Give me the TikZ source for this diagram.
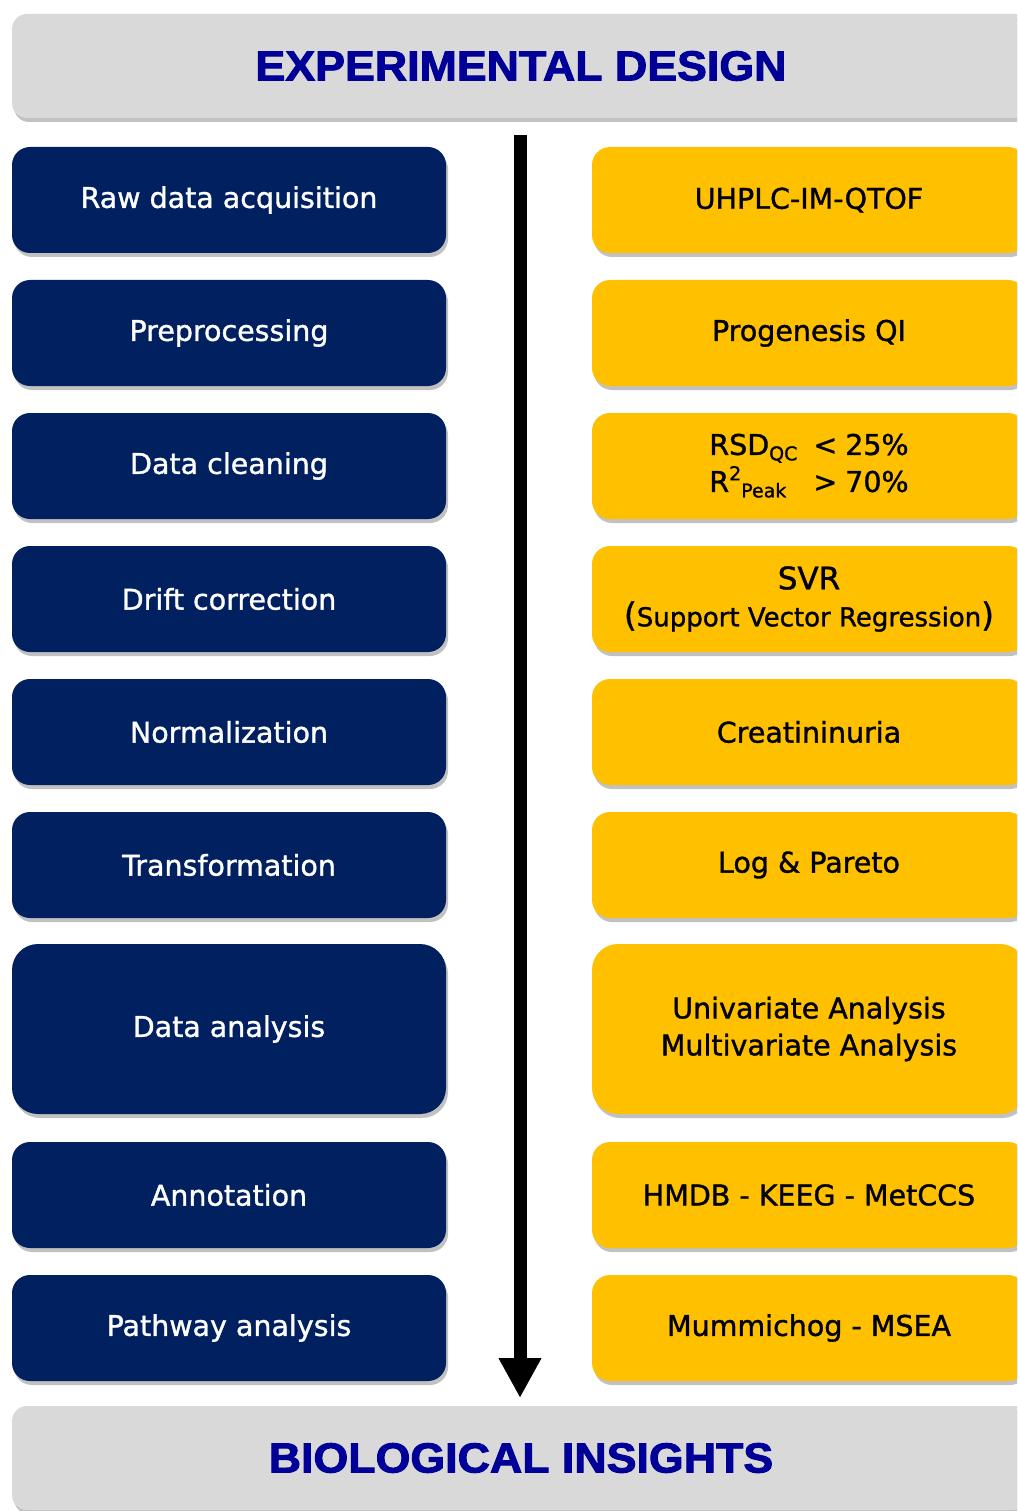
\documentclass[tikz,border=0pt]{standalone}
\usepackage{fontspec}
\setmainfont{DejaVu Sans}[FakeBold=1.2]
\newfontfamily\headfont{Liberation Sans}[FakeBold=2.2]
\usetikzlibrary{shadows,arrows.meta}
\definecolor{navy}{HTML}{002060}
\definecolor{gold}{HTML}{FFC000}
\definecolor{hgray}{HTML}{D9D9D9}
\definecolor{htext}{HTML}{000099}
\newcommand{\subtxt}[1]{\raisebox{-0.35ex}{\fontsize{19}{19}\selectfont #1}}
\newcommand{\suptxt}[1]{\raisebox{0.75ex}{\fontsize{19}{19}\selectfont #1}}
\begin{document}
\begin{tikzpicture}[x=1pt,y=-1pt,
  boxbase/.style={rounded corners=18pt,
    drop shadow={shadow xshift=2pt,shadow yshift=-4pt,opacity=0.35,fill=black!70},
    inner sep=0pt, align=center, font=\fontsize{28.5}{37}\selectfont},
  leftbox/.style={boxbase, fill=navy, text=white, minimum width=434pt, minimum height=106pt},
  rightbox/.style={boxbase, fill=gold, text=black, minimum width=434pt, minimum height=106pt},
  hdr/.style={boxbase, rounded corners=15pt, fill=hgray, text=htext, minimum width=1018pt, minimum height=104pt,
    font=\headfont\bfseries\fontsize{42}{42}\selectfont},
  flowarrow/.style={line width=13pt, -{Triangle[width=40pt,length=40pt]}}
]
\useasboundingbox (0,0) rectangle (1017,1511);
\clip (0,0) rectangle (1017,1511);

\node[hdr] (top) at (521,66) {\scalebox{1.065}[1]{EXPERIMENTAL DESIGN}};
\node[hdr] (bot) at (521,1458) {\scalebox{1.065}[1]{BIOLOGICAL INSIGHTS}};

\node[leftbox] (l1) at (229,200) {Raw data acquisition};
\node[leftbox] (l2) at (229,333) {Preprocessing};
\node[leftbox] (l3) at (229,466) {Data cleaning};
\node[leftbox] (l4) at (229,599) {Drift correction};
\node[leftbox] (l5) at (229,732) {Normalization};
\node[leftbox] (l6) at (229,865) {Transformation};
\node[leftbox, minimum height=170pt, rounded corners=26pt] (l7) at (229,1029) {Data analysis};
\node[leftbox] (l8) at (229,1195) {Annotation};
\node[leftbox] (l9) at (229,1328) {Pathway analysis};

\node[rightbox] (r1) at (809,200) {UHPLC-IM-QTOF};
\node[rightbox] (r2) at (809,333) {Progenesis QI};
\node[rightbox] (r3) at (809,466) {\begin{tabular}{@{}l@{\hspace{16pt}}l@{}}
RSD\subtxt{QC} & <\hspace{8pt}25\% \\
R\suptxt{2}\subtxt{Peak} & >\hspace{8pt}70\%
\end{tabular}};
\node[rightbox] (r4) at (809,599) {{\fontsize{31}{42}\selectfont SVR}\\
{\fontsize{26}{26}\selectfont{\fontsize{33}{33}\selectfont(}Support Vector Regression{\fontsize{33}{33}\selectfont)}}};
\node[rightbox] (r5) at (809,732) {Creatininuria};
\node[rightbox] (r6) at (809,865) {Log \& Pareto};
\node[rightbox, minimum height=170pt, rounded corners=26pt] (r7) at (809,1029) {Univariate Analysis\\Multivariate Analysis};
\node[rightbox] (r8) at (809,1195) {HMDB - KEEG - MetCCS};
\node[rightbox] (r9) at (809,1328) {Mummichog - MSEA};

\coordinate (astart) at (520,135);
\coordinate (aend) at (520,1398);
\draw[flowarrow] (astart) -- (aend);
\end{tikzpicture}
\end{document}
